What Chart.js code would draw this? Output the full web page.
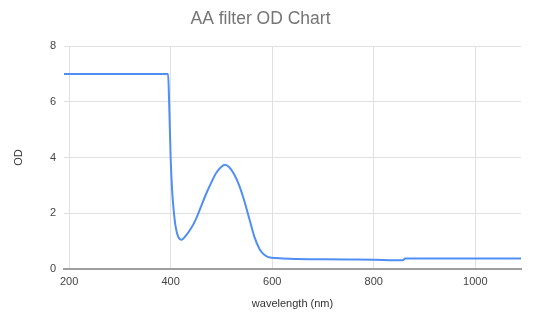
<!DOCTYPE html>
<html>
<head>
<meta charset="utf-8">
<title>AA filter OD Chart</title>
<script src="https://cdn.jsdelivr.net/npm/chart.js@4"></script>
<style>
  html, body { margin: 0; padding: 0; background: #ffffff; }
  #chart-wrap { width: 534px; height: 329px; }
</style>
</head>
<body>
<div id="chart-wrap">
  <canvas id="od-chart" width="534" height="329"></canvas>
</div>
<script>
'use strict';

// ************** Data ***************

let wavelengths = [190, 395, 397, 400, 403, 406, 410, 415, 421, 430, 440, 450, 460, 470, 480, 490, 500, 507, 515, 525, 535, 545, 555, 565, 575, 585, 598, 620, 650, 700, 750, 800, 850, 857, 862, 900, 950, 1000, 1050, 1090];
let odValues = [7, 7, 6.0, 4.0, 2.8, 2.1, 1.5, 1.15, 1.05, 1.2, 1.45, 1.8, 2.25, 2.7, 3.1, 3.45, 3.67, 3.74, 3.66, 3.4, 3.0, 2.45, 1.8, 1.15, 0.72, 0.5, 0.4, 0.38, 0.36, 0.35, 0.34, 0.33, 0.31, 0.31, 0.38, 0.38, 0.38, 0.38, 0.38, 0.38];
let xTicks = [200, 400, 600, 800, 1000];
let yTicks = [0, 2, 4, 6, 8];

// ************** Chart ***************

let points = [];
for (let i = 0; i < wavelengths.length; i++) {
  points.push({ x: wavelengths[i], y: odValues[i] });
}

let fontFamily = '"Liberation Sans", Arial, sans-serif';

let ctx = document.getElementById('od-chart').getContext('2d');

let myChartObject = {
  type: 'line',
  data: {
    datasets: [{
      label: 'OD',
      data: points,
      borderColor: '#4f8ff4',
      borderWidth: 2,
      pointRadius: 0,
      fill: false,
      cubicInterpolationMode: 'monotone'
    }]
  },
  options: {
    responsive: false,
    animation: false,
    layout: { padding: { left: 0, right: 13, top: 0, bottom: 0 } },
    plugins: {
      legend: { display: false },
      tooltip: { enabled: false },
      title: {
        display: true,
        text: 'AA filter OD Chart',
        color: '#757575',
        font: { family: fontFamily, size: 17.5, weight: 'normal' },
        padding: { top: 9, bottom: 16 }
      }
    },
    scales: {
      x: {
        type: 'linear',
        min: 190,
        max: 1090,
        afterBuildTicks: function (axis) {
          axis.ticks = xTicks.map(function (v) { return { value: v }; });
        },
        afterFit: function (axis) { axis.height = 60; },
        grid: { color: '#e0e0e0', drawTicks: false },
        border: { display: true, color: '#9e9e9e', width: 2 },
        ticks: {
          color: '#444444',
          font: { family: fontFamily, size: 11 },
          padding: 6,
          maxRotation: 0,
          callback: function (value) { return String(value); }
        },
        title: {
          display: true,
          text: 'wavelength (nm)',
          color: '#333333',
          font: { family: fontFamily, size: 11 },
          padding: { top: 0, bottom: 18 }
        }
      },
      y: {
        min: 0,
        max: 8,
        afterBuildTicks: function (axis) {
          axis.ticks = yTicks.map(function (v) { return { value: v }; });
        },
        afterFit: function (axis) { axis.width = 64; },
        grid: { color: '#e0e0e0', drawTicks: false },
        border: { display: false },
        ticks: {
          color: '#444444',
          font: { family: fontFamily, size: 11 },
          padding: 8
        },
        title: {
          display: true,
          text: 'OD',
          color: '#333333',
          font: { family: fontFamily, size: 11 },
          padding: { top: 12, bottom: 0 }
        }
      }
    }
  }
};

new Chart(ctx, myChartObject);
</script>
</body>
</html>
